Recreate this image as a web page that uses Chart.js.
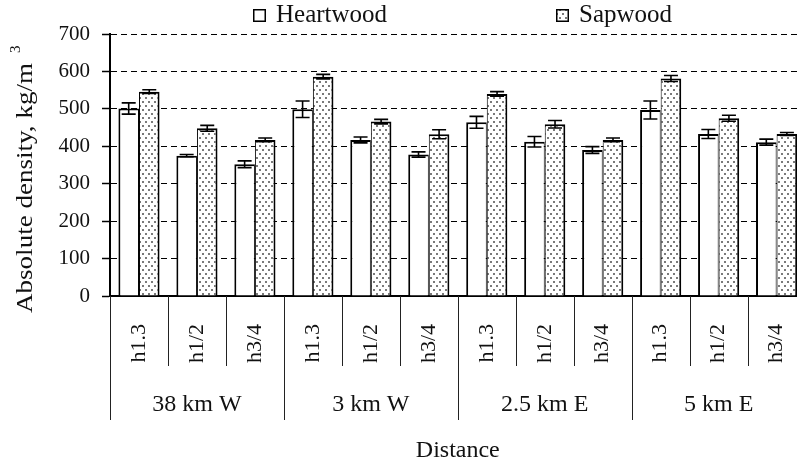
<!DOCTYPE html>
<html>
<head>
<meta charset="utf-8">
<script src="https://cdn.jsdelivr.net/npm/chart.js@4/dist/chart.umd.min.js"></script>
<style>
  html, body { margin: 0; padding: 0; background: #fff; overflow: hidden; }
  #wrap { position: relative; width: 823px; height: 465px; }
</style>
</head>
<body>
<div id="wrap"><canvas id="c"></canvas></div>
<script>
// Sampling positions along each stem, grouped by site distance
const positions = ['h1.3', 'h1/2', 'h3/4'];
const sites = ['38 km W', '3 km W', '2.5 km E', '5 km E'];
const categories = sites.flatMap(() => positions);

// Absolute density (kg/m3) and its error, per sampling position
const heartwood    = [501, 375, 352, 499, 417, 378, 464, 412, 390, 497, 433, 411];
const heartwoodErr = [15, 3, 9, 22, 8, 7, 16, 14, 9, 24, 12, 8];
const sapwood      = [546, 448, 417, 586, 466, 432, 540, 459, 417, 581, 475, 433];
const sapwoodErr   = [5, 8, 5, 6, 6, 12, 6, 10, 5, 8, 8, 4];

const yTicks = [0, 100, 200, 300, 400, 500, 600, 700];

const FONT = "'Liberation Serif', 'Times New Roman', serif";
const canvas = document.getElementById('c');
const ctx0 = canvas.getContext('2d');

// Dotted fill used for sapwood bars
function dotPattern() {
  const t = document.createElement('canvas');
  t.width = 6; t.height = 8;
  const g = t.getContext('2d');
  g.fillStyle = '#ffffff';
  g.fillRect(0, 0, 6, 8);
  g.fillStyle = '#7a7a7a';
  g.fillRect(1, 1, 2, 2);
  g.fillRect(4, 5, 2, 2);
  return ctx0.createPattern(t, 'repeat');
}
const dots = dotPattern();

// Error bars drawn on top of every bar
const errorBars = {
  id: 'errorBars',
  afterDatasetsDraw(chart) {
    const { ctx, scales: { y } } = chart;
    ctx.save();
    ctx.strokeStyle = '#000';
    ctx.lineWidth = 1.6;
    chart.data.datasets.forEach((ds, i) => {
      const meta = chart.getDatasetMeta(i);
      meta.data.forEach((bar, j) => {
        const v = ds.data[j], e = ds.errors[j];
        const top = y.getPixelForValue(v + e);
        const bot = y.getPixelForValue(v - e);
        const x = bar.x, half = 7;
        ctx.beginPath();
        ctx.moveTo(x, top); ctx.lineTo(x, bot);
        ctx.moveTo(x - half, top); ctx.lineTo(x + half, top);
        ctx.moveTo(x - half, bot); ctx.lineTo(x + half, bot);
        ctx.stroke();
      });
    });
    ctx.restore();
  }
};

// Two-level category axis: separators below the axis and site names
const groupAxis = {
  id: 'groupAxis',
  afterDraw(chart) {
    const { ctx, chartArea, scales: { x } } = chart;
    const n = categories.length;
    const step = (x.getPixelForValue(n - 1) - x.getPixelForValue(0)) / (n - 1);
    const edge = i => x.getPixelForValue(i) - step / 2;
    const base = chartArea.bottom;
    ctx.save();
    ctx.strokeStyle = '#222';
    ctx.lineWidth = 1;
    for (let i = 0; i <= n; i++) {
      const px = Math.round(edge(i)) + 0.5;
      const len = (i % positions.length === 0) ? 124 : 70;
      ctx.beginPath();
      ctx.moveTo(px, base);
      ctx.lineTo(px, base + len);
      ctx.stroke();
    }
    ctx.fillStyle = '#111';
    ctx.font = '24px ' + FONT;
    ctx.textAlign = 'center';
    ctx.textBaseline = 'middle';
    sites.forEach((s, g) => {
      const cx = (edge(g * positions.length) + edge((g + 1) * positions.length)) / 2;
      ctx.fillText(s, cx, base + 109);
    });
    ctx.restore();
  }
};

// Y axis title with superscript unit, slightly widened type
const yTitle = {
  id: 'yTitle',
  afterDraw(chart) {
    const { ctx } = chart;
    ctx.save();
    ctx.translate(26, 313);
    ctx.rotate(-Math.PI / 2);
    ctx.fillStyle = '#111';
    ctx.textBaseline = 'middle';
    ctx.textAlign = 'left';
    ctx.font = '24px ' + FONT;
    const main = 'Absolute density, kg/m';
    const mw = ctx.measureText(main).width;
    const sx = 250 / mw;
    ctx.save();
    ctx.scale(sx, 1);
    ctx.fillText(main, 0, 0);
    ctx.restore();
    ctx.font = '15px ' + FONT;
    ctx.fillText('3', 260, -10);
    ctx.restore();
  }
};

// Legend row across the top
const topLegend = {
  id: 'topLegend',
  afterDraw(chart) {
    const { ctx } = chart;
    const items = [
      { x: 253, ds: chart.data.datasets[0] },
      { x: 556, ds: chart.data.datasets[1] }
    ];
    ctx.save();
    ctx.font = '25px ' + FONT;
    ctx.textBaseline = 'middle';
    ctx.textAlign = 'left';
    items.forEach(it => {
      ctx.fillStyle = it.ds.backgroundColor;
      ctx.fillRect(it.x, 9, 13, 13);
      ctx.strokeStyle = '#000';
      ctx.lineWidth = 1.5;
      ctx.strokeRect(it.x + 0.75, 9.75, 11.5, 11.5);
      ctx.fillStyle = '#111';
      ctx.fillText(it.ds.label, it.x + 23, 15.5);
    });
    ctx.restore();
  }
};

new Chart(canvas, {
  type: 'bar',
  data: {
    labels: categories,
    datasets: [
      {
        label: 'Heartwood',
        data: heartwood,
        errors: heartwoodErr,
        backgroundColor: '#ffffff',
        borderColor: '#000',
        borderWidth: { top: 2, left: 2, right: 1, bottom: 0 },
        borderSkipped: false,
        inflateAmount: 0
      },
      {
        label: 'Sapwood',
        data: sapwood,
        errors: sapwoodErr,
        backgroundColor: dots,
        borderColor: '#000',
        borderWidth: { top: 2, left: 1, right: 2, bottom: 0 },
        borderSkipped: false,
        inflateAmount: 0
      }
    ]
  },
  options: {
    responsive: true,
    maintainAspectRatio: false,
    animation: false,
    devicePixelRatio: 1,
    layout: { padding: { top: 34, left: 0, right: 0, bottom: 0 } },
    datasets: { bar: { categoryPercentage: 0.71, barPercentage: 1.0 } },
    plugins: {
      legend: { display: false },
      tooltip: { enabled: false }
    },
    scales: {
      x: {
        grid: { display: false },
        border: { display: true, color: '#000', width: 2 },
        ticks: {
          color: '#111',
          font: { family: FONT, size: 22 },
          minRotation: 90,
          maxRotation: 90,
          padding: 20,
          autoSkip: false
        },
        title: {
          display: true,
          text: 'Distance',
          color: '#111',
          font: { family: FONT, size: 24 },
          padding: { top: 0, bottom: 0 }
        },
        afterFit(scale) { scale.height = 169; }
      },
      y: {
        min: 0,
        max: 700,
        afterBuildTicks(scale) { scale.ticks = yTicks.map(v => ({ value: v })); },
        grid: {
          color: '#000',
          lineWidth: 1,
          drawTicks: true,
          tickLength: 8,
          tickColor: '#000',
          tickWidth: 1.5,
          tickBorderDash: []
        },
        border: { display: true, color: '#000', width: 2, dash: [6, 4] },
        ticks: {
          color: '#111',
          font: { family: FONT, size: 21 },
          padding: 12
        },
        afterFit(scale) { scale.width = 110; }
      }
    }
  },
  plugins: [errorBars, groupAxis, yTitle, topLegend]
});
</script>
</body>
</html>
